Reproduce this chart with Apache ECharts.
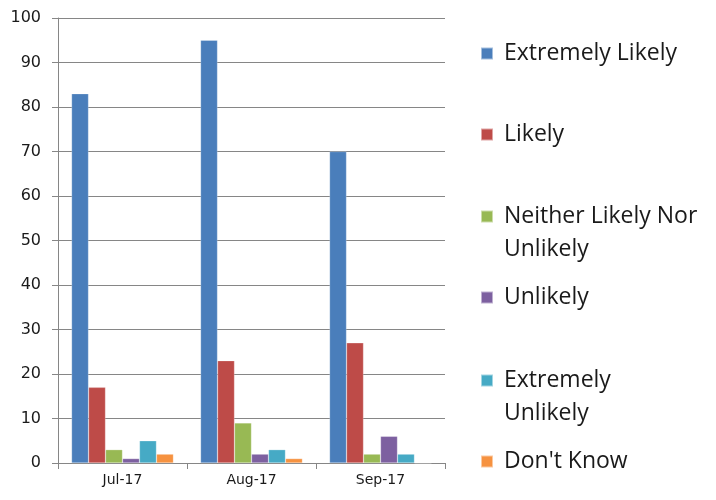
<!DOCTYPE html>
<html>
<head>
<meta charset="utf-8">
<script src="https://cdn.jsdelivr.net/npm/echarts@6/dist/echarts.min.js"></script>
<style>
  html, body { margin: 0; padding: 0; background: #fff; }
  #main { width: 716px; height: 500px; }
</style>
</head>
<body>
<div id="main"></div>
<script>
// data
var months = ['Jul-17', 'Aug-17', 'Sep-17'];
var extremelyLikely = [83, 95, 70];
var likely = [17, 23, 27];
var neither = [3, 9, 2];
var unlikely = [1, 2, 6];
var extremelyUnlikely = [5, 3, 2];
var dontKnow = [2, 1, 0];
var yTicks = [0, 10, 20, 30, 40, 50, 60, 70, 80, 90, 100];

var seriesNames = ['Extremely Likely', 'Likely', 'Neither Likely Nor Unlikely', 'Unlikely', 'Extremely Unlikely', "Don't Know"];
var seriesData = [extremelyLikely, likely, neither, unlikely, extremelyUnlikely, dontKnow];
var colors = ['#4A7EBB', '#BE4B48', '#98B954', '#7D60A0', '#46AAC5', '#F69240'];

// legend first lines + where the text wraps
var legendFirst = ['Extremely Likely', 'Likely', 'Neither Likely Nor', 'Unlikely', 'Extremely', "Don't Know"];
var legendSecond = ['', '', 'Unlikely', '', 'Unlikely', ''];
var legendTops = [37, 118, 200, 281, 364, 445];

var myChart = echarts.init(document.getElementById('main'));

var legends = seriesNames.map(function (name, i) {
  return {
    data: [name],
    left: 475,
    top: legendTops[i],
    orient: 'vertical',
    itemWidth: 12,
    itemHeight: 12,
    itemGap: 0,
    icon: 'rect',
    selectedMode: false,
    formatter: function () { return legendFirst[i]; },
    textStyle: { fontFamily: 'Open Sans', fontSize: 23, color: '#1a1a1a', padding: [0, 0, 0, 6] }
  };
});

var extraText = [];
legendSecond.forEach(function (t, i) {
  if (t) {
    extraText.push({
      type: 'text',
      left: 504,
      top: legendTops[i] + 38,
      style: { text: t, font: '23px "Open Sans"', fill: '#1a1a1a' }
    });
  }
});

var option = {
  animation: false,
  color: colors,
  grid: { left: 58, top: 18, right: 271, bottom: 37 },
  legend: legends,
  graphic: extraText,
  xAxis: {
    type: 'category',
    data: months,
    axisLine: { lineStyle: { color: '#868686', width: 1 } },
    axisTick: { show: true, length: 6, lineStyle: { color: '#868686' } },
    axisLabel: { fontFamily: 'DejaVu Sans', fontSize: 14, color: '#1a1a1a', margin: 10 }
  },
  yAxis: {
    type: 'value',
    min: yTicks[0],
    max: yTicks[yTicks.length - 1],
    interval: 10,
    axisLine: { show: true, lineStyle: { color: '#868686', width: 1 } },
    axisTick: { show: true, length: 6, lineStyle: { color: '#868686' } },
    axisLabel: { fontFamily: 'DejaVu Sans', fontSize: 16, color: '#1a1a1a', margin: 17 },
    splitLine: { lineStyle: { color: '#868686', width: 1 } }
  },
  series: seriesNames.map(function (name, i) {
    return {
      name: name,
      type: 'bar',
      data: seriesData[i],
      barGap: '0%',
      barCategoryGap: '21%',
      itemStyle: { color: colors[i], borderColor: 'rgba(255,255,255,0.5)', borderWidth: 0.5 }
    };
  })
};

myChart.setOption(option);
</script>
</body>
</html>
